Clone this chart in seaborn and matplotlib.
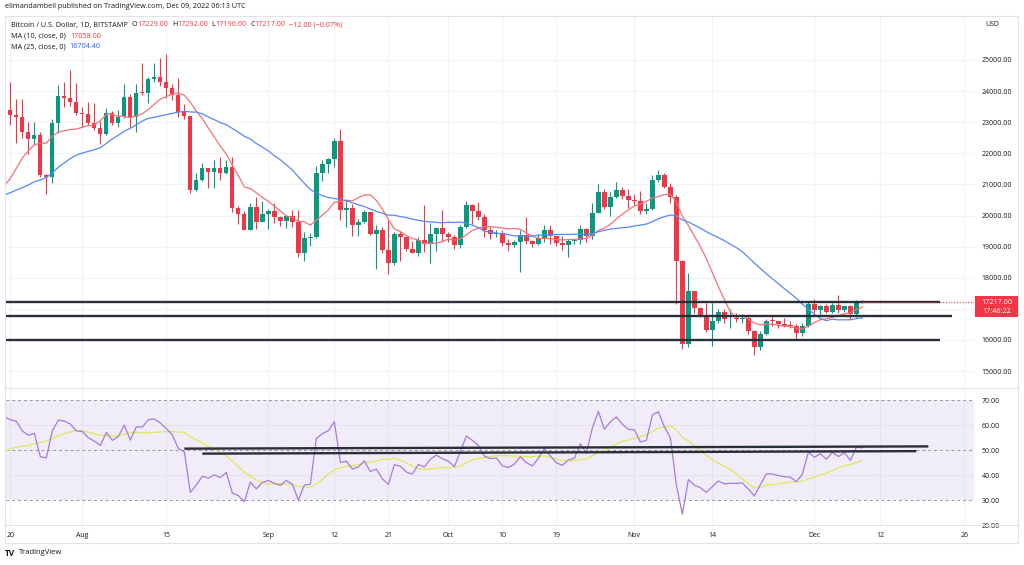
import numpy as np
import pandas as pd
import matplotlib
matplotlib.use("Agg")
import matplotlib.pyplot as plt
import seaborn as sns
from matplotlib.patches import Rectangle
from matplotlib.lines import Line2D

# ------------------------------------------------------------------ data
dates = pd.date_range("2022-07-19", "2022-12-09", freq="D")

opens = [22430, 23400, 23230, 23160, 22680, 22460, 22580, 21310, 21250, 22960, 23840, 23780, 23640,
         23300, 23270, 22980, 22820, 22620, 23310, 22960, 23170, 23810, 23160, 23950, 23940, 24400,
         24440, 24300, 24100, 23860, 23340, 23200, 20830, 21140, 21520, 21400, 21530, 21370, 21560,
         20240, 20040, 19550, 20290, 19800, 20050, 20130, 19950, 19830, 19990, 19790, 18790, 19290,
         19320, 21360, 21650, 21830, 22400, 20170, 20230, 19700, 19800, 20110, 19420, 19540, 18880,
         18480, 19400, 19300, 18930, 18800, 19220, 19080, 19410, 19590, 19420, 19310, 19060, 19630,
         20330, 20160, 19960, 19530, 19420, 19440, 19130, 19060, 19160, 19380, 19180, 19070, 19270,
         19550, 19330, 19120, 19040, 19170, 19210, 19570, 19330, 20090, 20770, 20290, 20600, 20820,
         20630, 20490, 20480, 20160, 20210, 21150, 21300, 20910, 20600, 18540, 15880, 17590, 17040,
         16800, 16330, 16620, 16900, 16660, 16690, 16680, 16700, 16280, 15780, 16190, 16610, 16600,
         16520, 16460, 16440, 16220, 16440, 17170, 16970, 17090, 16890, 17110, 16970, 17090, 16840,
         17229]
highs = [23770, 24280, 23740, 23760, 23000, 23000, 22680, 21350, 23100, 24190, 24290, 24680, 24260,
         23480, 23650, 23620, 23030, 23460, 23350, 23400, 24230, 23920, 24230, 24900, 24450, 24900,
         25050, 25200, 24240, 24420, 23580, 23200, 21370, 21690, 21520, 21800, 21870, 21800, 21870,
         20320, 20140, 20400, 20580, 20480, 20200, 20400, 20000, 20000, 20170, 20180, 19460, 19450,
         21600, 21800, 21850, 22490, 22780, 20540, 20370, 19880, 20180, 20110, 19680, 19630, 19860,
         19480, 19500, 19300, 19180, 19300, 20340, 19760, 19640, 20180, 19480, 19390, 19700, 20460,
         20360, 20440, 20060, 19620, 19550, 19520, 19250, 19220, 19520, 19950, 19220, 19420, 19680,
         19700, 19350, 19340, 19250, 19260, 19690, 19600, 20410, 21020, 20860, 20750, 21080, 20930,
         20840, 20690, 20790, 20390, 21300, 21460, 21360, 21060, 20660, 18580, 18150, 17590, 17070,
         17190, 17190, 17000, 17000, 16980, 16880, 16820, 16760, 16330, 16300, 16660, 16800, 16600,
         16700, 16600, 16500, 16540, 17240, 17320, 17110, 17150, 17190, 17440, 17100, 17140, 17300,
         17292]
lows = [21690, 22900, 22340, 22480, 21970, 22260, 21230, 20700, 21030, 22650, 23480, 23520, 23230,
        22840, 22920, 22750, 22290, 22590, 22920, 22850, 23150, 22860, 22670, 23880, 23610, 24290,
        24160, 23780, 23700, 23160, 23100, 20740, 20780, 21100, 20900, 20900, 21130, 21320, 20100,
        19740, 19530, 19540, 19560, 19780, 19580, 19760, 19650, 19600, 19640, 18680, 18530, 19020,
        19290, 21120, 21360, 21560, 19870, 19620, 19330, 19330, 19760, 19390, 18270, 18800, 18130,
        18400, 18530, 18850, 18780, 18700, 18830, 18460, 18860, 19170, 19160, 18930, 18960, 19600,
        19740, 19860, 19320, 19250, 19320, 19020, 18860, 18980, 18190, 19080, 18980, 19060, 19160,
        19100, 19030, 18900, 18660, 19090, 19070, 19160, 19250, 20070, 20210, 20000, 20560, 20530,
        20250, 20340, 20050, 20050, 20180, 21080, 20880, 20400, 17170, 15700, 15760, 16880, 16750,
        16270, 15820, 16550, 16560, 16400, 16590, 16560, 16200, 15510, 15680, 16170, 16460, 16400,
        16420, 16400, 16020, 16120, 16420, 16860, 16800, 16880, 16880, 16880, 16910, 16680, 16740,
        17196]
closes = [23400, 23230, 23160, 22680, 22460, 22580, 21310, 21250, 22960, 23840, 23780, 23640, 23300,
          23270, 22980, 22820, 22620, 23310, 22960, 23170, 23810, 23160, 23950, 23940, 24400, 24440,
          24300, 24100, 23860, 23340, 23200, 20830, 21140, 21520, 21400, 21530, 21370, 21560, 20240,
          20040, 19550, 20290, 19800, 20050, 20130, 19950, 19830, 19990, 19790, 18790, 19290, 19320,
          21360, 21650, 21830, 22400, 20170, 20230, 19700, 19800, 20110, 19420, 19540, 18880, 18480,
          19400, 19300, 18930, 18800, 19220, 19080, 19410, 19590, 19420, 19310, 19060, 19630, 20330,
          20160, 19960, 19530, 19420, 19440, 19130, 19060, 19160, 19380, 19180, 19070, 19270, 19550,
          19330, 19120, 19040, 19170, 19210, 19570, 19330, 20090, 20770, 20290, 20600, 20820, 20630,
          20490, 20480, 20160, 20210, 21150, 21300, 20910, 20600, 18540, 15880, 17590, 17040, 16800,
          16330, 16620, 16900, 16660, 16690, 16680, 16700, 16280, 15780, 16190, 16610, 16600, 16520,
          16460, 16440, 16220, 16440, 17170, 16970, 17090, 16890, 17110, 16970, 17090, 16840, 17230,
          17217]
# daily closes 2022-06-01 .. 2022-07-18 (only used to warm up MA / RSI)
history_closes = [29800, 30450, 29700, 29860, 29910, 31370, 31130, 30200, 30110, 29090, 28420, 26580,
                  22490, 22200, 22580, 20390, 20470, 19010, 20550, 20570, 20710, 19970, 21090, 21230,
                  21490, 21040, 20730, 20280, 20100, 19780, 19300, 19250, 19300, 20230, 20190, 20550,
                  21620, 21590, 21590, 20840, 19960, 19320, 20220, 20570, 20830, 21190, 20790, 22430]

level_prices = [17230, 16780, 16000]
level_start = ["2022-07-18", "2022-07-18", "2022-07-18"]
level_end = ["2022-12-22", "2022-12-24", "2022-12-22"]
rsi_line_start = ["2022-08-18", "2022-08-21"]
rsi_line_end = ["2022-12-20", "2022-12-18"]
rsi_line_v0 = [50.6, 48.6]
rsi_line_v1 = [51.5, 49.6]

x_tick_dates = ["2022-07-20", "2022-08-01", "2022-08-15", "2022-09-01", "2022-09-12", "2022-09-21",
                "2022-10-01", "2022-10-10", "2022-10-19", "2022-11-01", "2022-11-14", "2022-12-01",
                "2022-12-12", "2022-12-26"]
x_tick_labels = ["20", "Aug", "15", "Sep", "12", "21", "Oct", "10", "19", "Nov", "14", "Dec", "12", "26"]
price_ticks = [15000, 16000, 17000, 18000, 19000, 20000, 21000, 22000, 23000, 24000, 25000]
rsi_ticks = [20, 30, 40, 50, 60, 70]

# ------------------------------------------------------------------ style
sns.set_theme(style="white")
plt.rcParams["font.family"] = ["Open Sans", "DejaVu Sans"]

GREEN = "#089981"
RED = "#f23645"
TXT = "#131722"
GRID = "#f0f3fa"
BORDER = "#e0e3eb"
LEVEL = "#2a2e39"

W, H = 1024, 565
fig = plt.figure(figsize=(W / 100, H / 100), dpi=100)
fig.patch.set_facecolor("white")


def box(x0, y0, x1, y1):
    return [x0 / W, 1 - y1 / H, (x1 - x0) / W, (y1 - y0) / H]


ax = fig.add_axes(box(6, 16, 974, 388))
axr = fig.add_axes(box(6, 388, 974, 525), sharex=ax)

ref = pd.Timestamp("2022-07-20")


def dnum(d):
    return (pd.to_datetime(d) - ref) / pd.Timedelta(days=1)


day = np.asarray(dnum(dates), dtype=float)
o = np.array(opens, float)
h = np.array(highs, float)
l = np.array(lows, float)
c = np.array(closes, float)

# ------------------------------------------------------------------ indicators
all_close = pd.Series(history_closes + closes, dtype=float)
n = len(closes)
ma10 = all_close.rolling(10).mean().iloc[-n:].to_numpy()
ma25 = all_close.rolling(25).mean().iloc[-n:].to_numpy()
delta = all_close.diff()
gain = delta.clip(lower=0)
loss = -delta.clip(upper=0)
ag = gain.ewm(alpha=1 / 14, adjust=False).mean()
al = loss.ewm(alpha=1 / 14, adjust=False).mean()
rsi_all = 100 - 100 / (1 + ag / al)
rsi_ma_all = rsi_all.rolling(14).mean()
rsi = rsi_all.iloc[-n:].to_numpy()
rsi_ma = rsi_ma_all.iloc[-n:].to_numpy()

# ------------------------------------------------------------------ price pane
xl = (-0.72, 160.6)
ax.set_xlim(*xl)
ax.set_ylim(14457, 26413)
ax.set_facecolor("white")
for y in price_ticks:
    ax.axhline(y, color=GRID, lw=0.8, zorder=0)
for t in x_tick_dates:
    ax.axvline(dnum(t), color=GRID, lw=0.8, zorder=0)
    axr.axvline(dnum(t), color=GRID, lw=0.8, zorder=0)

up = c >= o
cols = np.where(up, GREEN, RED)
ax.vlines(day, l, h, colors=cols, linewidth=0.8, zorder=2)
ax.bar(day, np.maximum(np.abs(c - o), 30), bottom=np.minimum(o, c), width=0.72,
       color=cols, linewidth=0, zorder=3)

df_ma = pd.DataFrame({"day": day, "ma10": ma10, "ma25": ma25})
sns.lineplot(data=df_ma, x="day", y="ma10", ax=ax, color="#f5707a", lw=0.9, zorder=4)
sns.lineplot(data=df_ma, x="day", y="ma25", ax=ax, color="#5b87f5", lw=0.9, zorder=4)

for p, s, e in zip(level_prices, level_start, level_end):
    ax.plot([dnum(s), dnum(e)], [p, p], color=LEVEL, lw=1.7, solid_capstyle="butt", zorder=5)

ax.hlines(c[-1], day[-1], xl[1], colors=RED, linestyles=(0, (1, 1.5)), lw=0.8, zorder=5)

ax.set_yticks(price_ticks)
ax.set_yticklabels([f"{v:.2f}" for v in price_ticks])
ax.yaxis.tick_right()
ax.tick_params(axis="y", length=0, pad=5.5, labelsize=5, labelcolor=TXT)
ax.tick_params(axis="x", length=0, labelbottom=False)
ax.set_xlabel("")
ax.set_ylabel("")
for sp in ax.spines.values():
    sp.set_visible(False)

# ------------------------------------------------------------------ RSI pane
axr.set_ylim(20.1, 74.9)
axr.set_facecolor("white")
axr.axhspan(30, 70, color="#7e57c2", alpha=0.1, lw=0, zorder=0)
for y in (40, 60):
    axr.axhline(y, color="#e6e1f0", lw=0.7, zorder=0)
for y in (30, 50, 70):
    axr.axhline(y, color="#9598a1", lw=0.7, ls=(0, (3, 3)), zorder=1)

df_rsi = pd.DataFrame({"day": day, "rsi": rsi, "rsi_ma": rsi_ma})
sns.lineplot(data=df_rsi, x="day", y="rsi_ma", ax=axr, color="#dfe85a", lw=0.9, zorder=3)
sns.lineplot(data=df_rsi, x="day", y="rsi", ax=axr, color="#a97ad8", lw=0.9, zorder=4)

for s, e, v0, v1 in zip(rsi_line_start, rsi_line_end, rsi_line_v0, rsi_line_v1):
    axr.plot([dnum(s), dnum(e)], [v0, v1], color=LEVEL, lw=1.7, solid_capstyle="butt", zorder=5)

axr.set_yticks(rsi_ticks)
axr.set_yticklabels([f"{v:.2f}" for v in rsi_ticks])
axr.yaxis.tick_right()
axr.tick_params(axis="y", length=0, pad=5.5, labelsize=5, labelcolor=TXT)
axr.set_xticks([dnum(t) for t in x_tick_dates])
axr.set_xticklabels(x_tick_labels)
axr.tick_params(axis="x", length=0, pad=5, labelsize=5, labelcolor=TXT)
axr.set_xlim(*xl)
axr.set_xlabel("")
axr.set_ylabel("")
for sp in axr.spines.values():
    sp.set_visible(False)

# ------------------------------------------------------------------ frame
for yy in (16, 388, 525, 543):
    fig.add_artist(Line2D([5 / W, 1018 / W], [1 - yy / H, 1 - yy / H], color=BORDER, lw=0.8,
                          transform=fig.transFigure))
for xx in (5, 1018):
    fig.add_artist(Line2D([xx / W, xx / W], [1 - 16 / H, 1 - 543 / H], color=BORDER, lw=0.8,
                          transform=fig.transFigure))

# current price tag
fig.canvas.draw()
py_disp = ax.transData.transform((0, c[-1]))[1]
py = H - py_disp
fig.add_artist(Rectangle((975 / W, 1 - (py + 15) / H), 43 / W, 21 / H, transform=fig.transFigure,
                         facecolor=RED, edgecolor="none", zorder=10))
fig.text(996.5 / W, 1 - (py + 0.5) / H, f"{c[-1]:.2f}", color="white", fontsize=5.2,
         ha="center", va="center", zorder=11)
fig.text(996.5 / W, 1 - (py + 9.5) / H, "17:46:22", color="white", fontsize=5.2,
         ha="center", va="center", zorder=11)


# ------------------------------------------------------------------ texts
def chain(x, y, parts, size=5.2):
    prev = None
    for txt, col, gap in parts:
        if prev is None:
            prev = ax.annotate(txt, xy=(x, H - y), xycoords="figure pixels", color=col,
                               fontsize=size, ha="left", va="center", annotation_clip=False)
        else:
            prev = ax.annotate(txt, xy=(1, 0.5), xycoords=prev, xytext=(gap, 0),
                               textcoords="offset points", color=col, fontsize=size,
                               ha="left", va="center", annotation_clip=False)


chain(5, 7, [("elimandambell published on TradingView.com, Dec 09, 2022 06:13 UTC", TXT, 0)])
chain(11, 25, [("Bitcoin / U.S. Dollar, 1D, BITSTAMP", TXT, 0),
               ("O", TXT, 3), ("17229.00", RED, 0),
               ("H", TXT, 2.5), ("17292.00", RED, 0),
               ("L", TXT, 2.5), ("17196.00", RED, 0),
               ("C", TXT, 2.5), ("17217.00", RED, 0),
               ("\u221212.00 (\u22120.07%)", RED, 2.5)])
chain(11, 36, [("MA (10, close, 0)", TXT, 0), ("17058.00", RED, 3)])
chain(11, 47, [("MA (25, close, 0)", TXT, 0), ("16704.40", "#2962ff", 3)])
chain(11, 395, [("RSI (14, close, SMA, 14, 2)", TXT, 0), ("50.99", "#9c6ad0", 3),
                ("45.82", "#d0dc3a", 3), ("\u2205", TXT, 3), ("\u2205", TXT, 2.5)])
fig.text(985 / W, 1 - 25 / H, "USD", color=TXT, fontsize=5, ha="left", va="center")
fig.text(5 / W, 1 - 553 / H, "TV", color=TXT, fontsize=6, fontweight="bold", ha="left", va="center")
fig.text(19 / W, 1 - 553 / H, "TradingView", color=TXT, fontsize=5.5, ha="left", va="center")

fig.savefig("out.png", dpi=100, facecolor="white")
